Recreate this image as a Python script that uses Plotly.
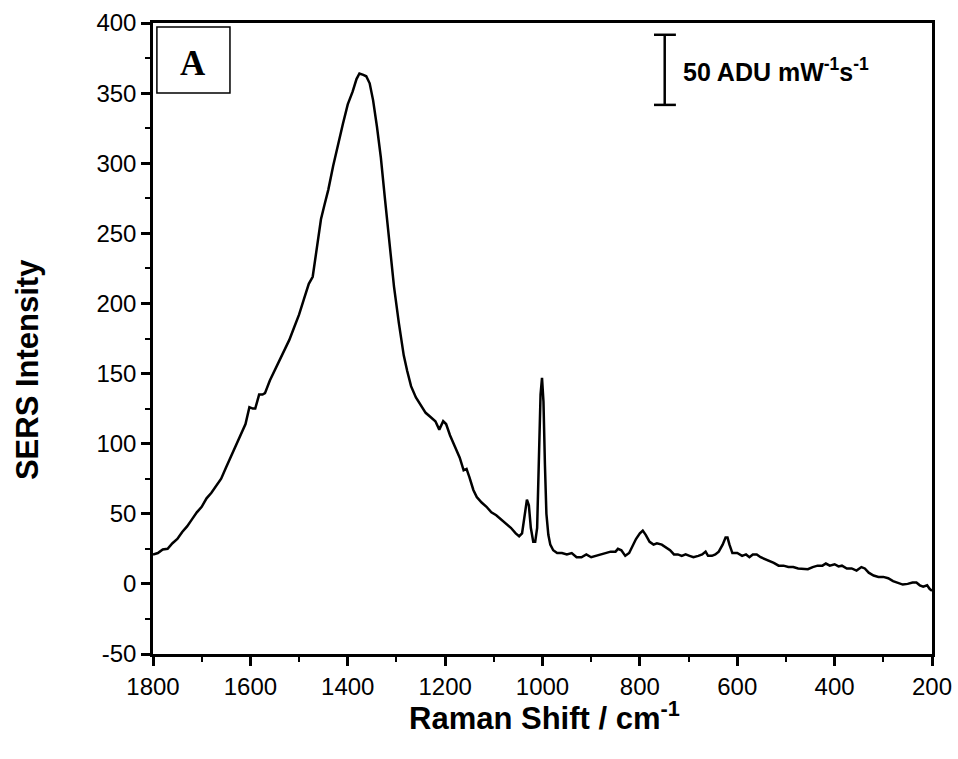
import plotly.graph_objects as go

raman_shift = [1800,1790,1780,1770,1760,1750,1740,1730,1720,1710,1700,1690,1680,1670,1660,1650,1640,1630,1620,1610,
               1602,1595,1590,1582,1575,1570,1560,1550,1540,1530,1520,1510,1500,1490,1480,1472,1465,1455,1448,1440,
               1430,1420,1410,1400,1390,1382,1376,1368,1362,1355,1348,1340,1332,1324,1315,1305,1295,1285,1278,1270,
               1260,1250,1240,1230,1220,1212,1204,1198,1190,1180,1170,1162,1156,1150,1142,1135,1125,1115,1105,1095,
               1085,1075,1065,1055,1048,1042,1037,1032,1028,1024,1019,1015,1011,1007,1004,1001,998,995,992,988,
               984,978,970,960,950,940,930,920,910,900,890,880,870,860,850,845,838,830,822,815,
               808,800,794,788,780,772,765,755,745,738,730,722,714,706,698,690,680,672,665,660,
               652,645,638,630,624,620,616,610,600,590,582,575,568,560,552,545,535,525,515,505,
               495,485,475,465,455,445,435,425,418,410,400,392,385,375,365,355,345,338,330,320,
               310,300,290,280,270,260,250,240,232,225,218,210,205,200]
sers_intensity = [21,22,24.5,25,29,32,37,41,46,51,55,61,65,70,75,83,91,98,106,114,
                  126,125,125,135,135,136,145,152,159,166,174,183,192,203,214,219,236,260,270,281,
                  298,314,328,342,351,360,364,363,362,357,345,326,304,276,244,212,186,163,152,141,
                  133,127,122,119,116,110,116,114,106,98,90,81,82,76,67,62,58,55,51,49,
                  46,43,40,36,34,36,47,60,56,40,30,30,40,90,135,147,130,85,50,35,
                  28,24,22,22,21,22,19,19,21,19,20,21,22,23,23,25,24,20,22,27,
                  32,36,38,35,30,28,29,28,26,24,21,21,20,21,20,19,20,21,23,20,
                  20,21,23,28,33,33,28,22,22,20,21,19,21,21,19,18,16,15,13,13,
                  12,12,11,11,10.5,12,13,13,14.5,13,14,12.5,13,11,11,9.5,12,11,8,6,
                  5,5,4,2,1,-0.5,0,1,1,-1,-2,-1,-3.5,-5]

x_ticks = [1800, 1600, 1400, 1200, 1000, 800, 600, 400, 200]
y_ticks = [-50, 0, 50, 100, 150, 200, 250, 300, 350, 400]
y_tick_labels = ["-50", "0", "50", "100", "150", "200", "250", "300", "350", "400"]

fig = go.Figure()
fig.add_trace(go.Scatter(x=raman_shift, y=sers_intensity, mode="lines",
                         line=dict(color="black", width=2.5), showlegend=False))

axis_font = dict(family="Liberation Sans, Arial, sans-serif", size=24, color="black")
fig.update_layout(
    width=958, height=759,
    margin=dict(l=153, r=26, t=23, b=105),
    paper_bgcolor="white", plot_bgcolor="white",
    font=axis_font,
    xaxis=dict(range=[1800, 200], tickvals=x_ticks, ticks="outside", ticklen=9, tickwidth=2.5,
               tickcolor="black", showline=True, linewidth=2.5, linecolor="black", mirror=True,
               showgrid=False, zeroline=False, tickfont=axis_font, automargin=False,
               minor=dict(dtick=100, ticks="outside", ticklen=5, tickwidth=2, tickcolor="black", showgrid=False)),
    yaxis=dict(range=[-50, 400], tickvals=y_ticks, ticktext=y_tick_labels, ticks="outside", ticklen=9,
               tickwidth=2.5, tickcolor="black", showline=True, linewidth=2.5, linecolor="black", mirror=True,
               showgrid=False, zeroline=False, tickfont=axis_font, automargin=False,
               minor=dict(dtick=25, ticks="outside", ticklen=5, tickwidth=2, tickcolor="black", showgrid=False)),
)

# axis titles
fig.add_annotation(text="<b>SERS Intensity</b>", xref="paper", yref="paper", x=-0.1617, y=0.450,
                   xanchor="center", yanchor="middle", textangle=-90, showarrow=False,
                   font=dict(family="Liberation Sans, Arial", size=31, color="black"))
fig.add_annotation(text="<b>Raman Shift / cm<sup>-1</sup></b>", xref="paper", yref="paper", x=0.503, y=-0.098,
                   xanchor="center", yanchor="middle", showarrow=False,
                   font=dict(family="Liberation Sans, Arial", size=31, color="black"))

# panel label box
fig.add_shape(type="rect", xref="paper", yref="paper", x0=0.005, x1=0.0988, y0=0.889, y1=0.9937,
              line=dict(color="black", width=1.5), fillcolor="white")
fig.add_annotation(text="<b>A</b>", xref="paper", yref="paper", x=0.0513, y=0.9366,
                   xanchor="center", yanchor="middle", showarrow=False,
                   font=dict(family="Liberation Serif, Times New Roman, serif", size=35, color="black"))

# scale bar
bar_x, bar_y0, bar_y1, cap_x0, cap_x1 = 749, 341.6, 391.6, 771, 726
fig.add_shape(type="line", xref="x", yref="y", x0=bar_x, x1=bar_x, y0=bar_y0, y1=bar_y1,
              line=dict(color="black", width=2.5))
for yy in (bar_y0, bar_y1):
    fig.add_shape(type="line", xref="x", yref="y", x0=cap_x0, x1=cap_x1, y0=yy, y1=yy,
                  line=dict(color="black", width=2.5))
fig.add_annotation(text="<b>50 ADU mW<sup>-1</sup>s<sup>-1</sup></b>", xref="x", yref="y", x=716, y=366.6,
                   xanchor="left", yanchor="middle", showarrow=False,
                   font=dict(family="Liberation Sans, Arial", size=25, color="black"))

fig.write_html("out.html")
